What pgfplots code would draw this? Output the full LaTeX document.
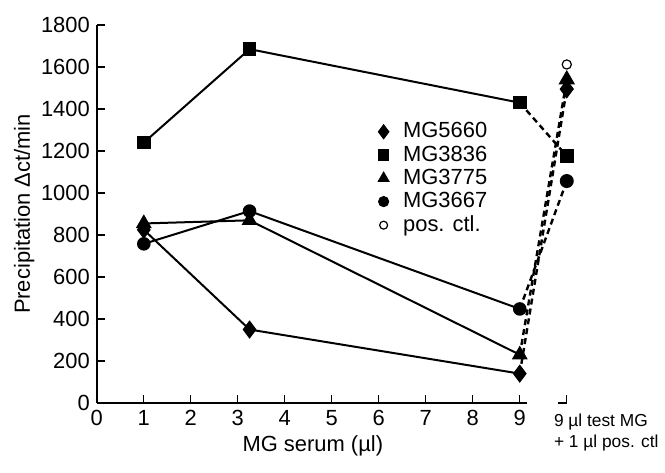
\documentclass[border=0pt]{standalone}
\usepackage{pgfplots}
\pgfplotsset{compat=1.18}
\usepackage{fontspec}
\setmainfont{Liberation Sans}

\begin{document}
\begin{tikzpicture}
\begin{axis}[
    scale only axis,
    width=242bp, height=189bp,
    xmin=0, xmax=10.3,
    ymin=0, ymax=1800,
    axis lines=left,
    axis line style={-, line width=1bp},
    x axis line style={draw=none},
    tick align=inside,
    major tick length=4bp,
    tick style={black, line width=0.6bp},
    xtick={0,1,...,10},
    xticklabels={0,1,2,3,4,5,6,7,8,9,{}},
    ytick={0,200,...,1800},
    font=\fontsize{11}{13}\selectfont,
    /pgf/number format/assume math mode=true,
    /pgf/number format/1000 sep={},
    ylabel={Precipitation Δct/min},
    ylabel shift=-3.5bp,
    xlabel={MG serum (µl)},
    xlabel style={xshift=-13bp, yshift=2bp},
    clip=false,
    legend cell align=left,
    legend style={draw=none, fill=none, at={(axis cs:5.85,1375)}, anchor=north west,
        font=\fontsize{11}{13}\selectfont, row sep=-1.5pt,
        /tikz/every odd column/.append style={column sep=5bp}},
]
% solid parts
\addplot[line width=1bp, mark=diamond*, mark size=3.8pt, forget plot]
    coordinates {(1,825) (3.25,350) (9,140)};
\addplot[line width=1bp, mark=square*, mark size=2.9pt, forget plot]
    coordinates {(1,1240) (3.25,1685) (9,1430)};
\addplot[line width=1bp, mark=triangle*, mark size=3.6pt, forget plot]
    coordinates {(1,855) (3.25,870) (9,230)};
\addplot[line width=1bp, mark=*, mark size=2.9pt, forget plot]
    coordinates {(1,758) (3.25,914) (9,448)};
% dashed parts to the test + pos. ctl column
\addplot[line width=1.2bp, dash pattern=on 3bp off 2bp, mark=diamond*, mark size=3.8pt, mark indices={2}, mark options={solid}, forget plot]
    coordinates {(9,140) (10,1495)};
\addplot[line width=1.2bp, dash pattern=on 3bp off 2bp, mark=square*, mark size=2.9pt, mark indices={2}, mark options={solid}, forget plot]
    coordinates {(9,1430) (10,1176)};
\addplot[line width=1.2bp, dash pattern=on 3bp off 2bp, mark=triangle*, mark size=3.6pt, mark indices={2}, mark options={solid}, forget plot]
    coordinates {(9,230) (10,1540)};
\addplot[line width=1.2bp, dash pattern=on 3bp off 2bp, mark=*, mark size=2.9pt, mark indices={2}, mark options={solid}, forget plot]
    coordinates {(9,448) (10,1057)};
\addplot[only marks, mark=o, mark size=2.3pt, line width=0.6bp, forget plot]
    coordinates {(10,1612)};
% legend
\addlegendimage{only marks, mark=diamond*, mark size=3.6pt}
\addlegendentry{MG5660}
\addlegendimage{only marks, mark=square*, mark size=2.6pt}
\addlegendentry{MG3836}
\addlegendimage{only marks, mark=triangle*, mark size=3.2pt}
\addlegendentry{MG3775}
\addlegendimage{only marks, mark=*, mark size=2.6pt}
\addlegendentry{MG3667}
\addlegendimage{only marks, mark=o, mark size=2pt, line width=0.6bp}
\addlegendentry{pos. ctl.}
% broken x axis line
\draw[line width=1bp] (axis cs:0,0) -- (axis cs:9.15,0);
\draw[line width=0.6bp] (axis cs:9.82,0) -- (axis cs:10,0);
\node[anchor=north west, align=left, inner sep=0pt, font=\fontsize{8.7}{11}\selectfont]
    at ([yshift=-5bp]axis cs:9.72,0) {9 µl test MG\\+ 1 µl pos. ctl};
% page margins as in the reference
\path (axis cs:-2.06,1919) rectangle (axis cs:12.09,-329);
\end{axis}
\end{tikzpicture}
\end{document}
